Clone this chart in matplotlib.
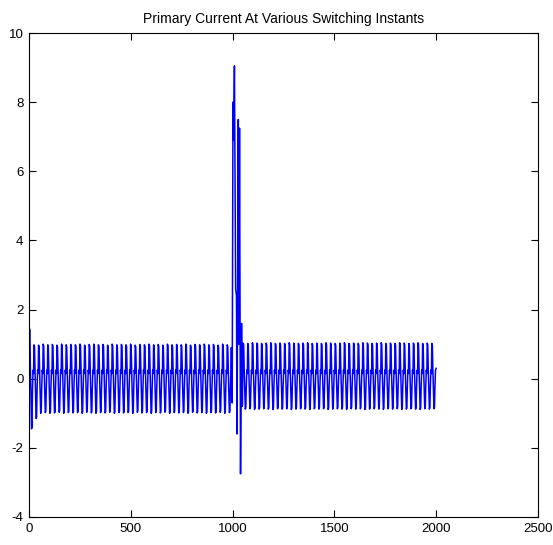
#!/usr/bin/env python

'''Primary current at various switching instants'''

import matplotlib
matplotlib.use('Agg')
from matplotlib.pyplot import figure

# Values.

samples_per_cycle = 22.6

# peak and trough of each cycle before the switching transient
peaks_pre   = [1.45, 0.98, 0.97, 1.00, 0.98, 0.99, 0.97, 1.00, 0.98, 0.99,
               0.98, 1.00, 0.97, 0.99, 1.00, 0.98, 0.99, 0.97, 1.00, 0.98,
               0.99, 0.98, 1.00, 0.97, 0.99, 0.98, 1.00, 0.98, 0.99, 0.97,
               1.00, 0.98, 0.99, 0.98, 1.00, 0.97, 0.99, 0.98, 1.00, 0.98,
               0.99, 0.97, 1.00, 0.98]
troughs_pre = [-1.45, -1.15, -1.00, -0.98, -1.00, -0.99, -0.97, -1.00, -0.98, -0.99,
               -0.98, -1.00, -0.97, -0.99, -1.00, -0.98, -0.99, -0.97, -1.00, -0.98,
               -0.99, -0.98, -1.00, -0.97, -0.99, -0.98, -1.00, -0.98, -0.99, -0.97,
               -1.00, -0.98, -0.99, -0.98, -1.00, -0.97, -0.99, -0.98, -1.00, -0.98,
               -0.99, -0.97, -1.00, -0.98]

# the transient itself
spike_x = [994, 998, 1002, 1005, 1009, 1015, 1019, 1022, 1028, 1031, 1034, 1039, 1044, 1048]
spike_y = [0.9, -0.7, 8.0, 6.9, 9.05, 2.6, 2.4, -1.6, 7.5, 1.0, 7.25, -2.75, 1.6, -0.8]

# peak and trough of each cycle after it
peaks_post   = [1.03, 1.02, 1.04, 1.03, 1.02, 1.03, 1.04, 1.02, 1.03, 1.02,
                1.04, 1.03, 1.02, 1.03, 1.04, 1.02, 1.03, 1.02, 1.04, 1.03,
                1.02, 1.03, 1.04, 1.02, 1.03, 1.02, 1.04, 1.03, 1.02, 1.03,
                1.04, 1.02, 1.03, 1.02, 1.04, 1.03, 1.02, 1.03, 1.04, 1.02,
                1.03, 1.02]
troughs_post = [-0.88, -0.87, -0.89, -0.88, -0.87, -0.88, -0.89, -0.87, -0.88, -0.87,
                -0.89, -0.88, -0.87, -0.88, -0.89, -0.87, -0.88, -0.87, -0.89, -0.88,
                -0.87, -0.88, -0.89, -0.87, -0.88, -0.87, -0.89, -0.88, -0.87, -0.88,
                -0.89, -0.87, -0.88, -0.87, -0.89, -0.88, -0.87, -0.88, -0.89, -0.87,
                -0.88, -0.87]

# ripple levels inside the band around zero, per cycle
band_pre  = [0.15, 0.30, -0.25, -0.30, 0.25]
band_post = [0.15, 0.30, -0.20, -0.25, 0.25]
end_value = 0.3

start_pre  = 0
start_post = 1050

# where the corners fall inside one cycle
cycle_phase = [0.0, 0.08, 0.2, 0.3, 0.4, 0.55, 0.66, 0.76, 0.88]


def cycles(start, peaks, troughs, band):
    xs, ys = [], []
    for k, (p, t) in enumerate(zip(peaks, troughs)):
        s = start + k * samples_per_cycle
        xs += [s + f * samples_per_cycle for f in cycle_phase]
        ys += [band[0], p, p - 0.05, band[1], band[2], t, t + 0.05, band[3], band[4]]
    return xs, ys


if __name__ == '__main__':
    x1, y1 = cycles(start_pre, peaks_pre, troughs_pre, band_pre)
    x2, y2 = cycles(start_post, peaks_post, troughs_post, band_post)
    xs = x1 + spike_x + x2 + [2000]
    ys = y1 + spike_y + y2 + [end_value]

    matplotlib.rcParams['font.family'] = ['Liberation Sans', 'DejaVu Sans']
    matplotlib.rcParams['axes.unicode_minus'] = False
    fig = figure(figsize=(5.53, 5.45), dpi=100)
    ax = fig.add_axes([0.0524, 0.0514, 0.9205, 0.888])
    ax.plot(xs, ys, color=(0, 0, 1), linewidth=1.1)
    ax.set_xlim(0, 2500)
    ax.set_ylim(-4, 10)
    ax.set_xticks(range(0, 2501, 500))
    ax.set_yticks(range(-4, 11, 2))
    ax.tick_params(direction='in', top=True, right=True, length=5, width=0.8,
                   labelsize=9.5, pad=4)
    for sp in ax.spines.values():
        sp.set_linewidth(0.8)
    ax.set_title('Primary Current At Various Switching Instants', fontsize=10, pad=7)
    fig.savefig('out.png')
